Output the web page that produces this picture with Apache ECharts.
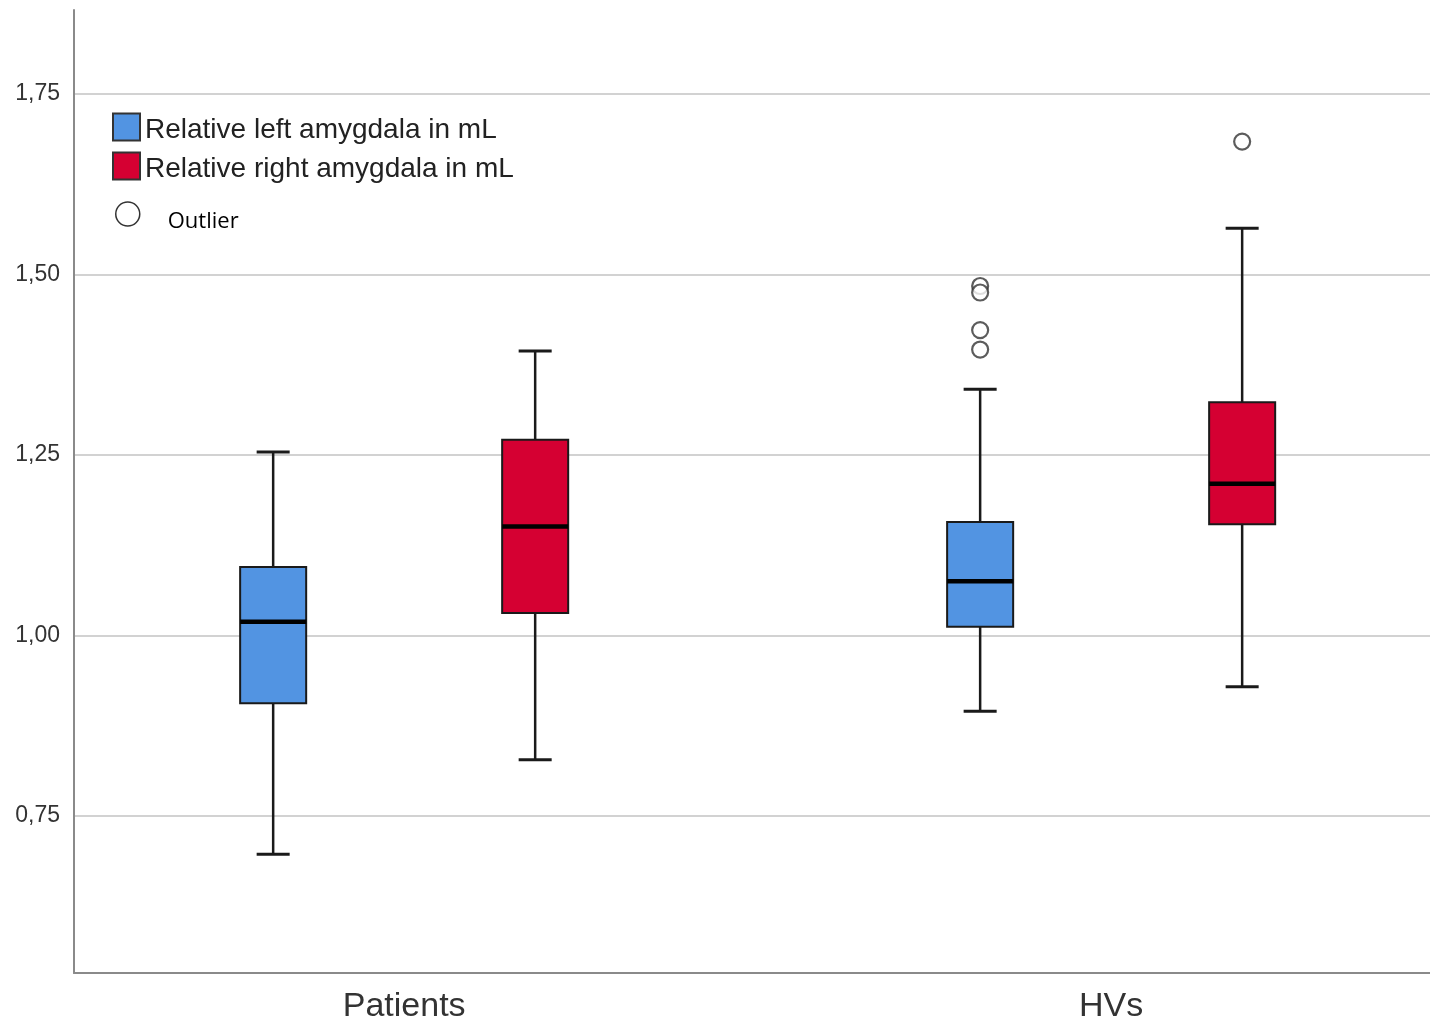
<!DOCTYPE html>
<html>
<head>
<meta charset="utf-8">
<script src="https://cdn.jsdelivr.net/npm/echarts@6/dist/echarts.min.js"></script>
<style>html,body{margin:0;padding:0;background:#fff}#c{width:1430px;height:1024px}</style>
</head>
<body>
<div id="c"></div>
<script>
// ---- data ----
const categories = ['Patients', 'HVs'];
const seriesNames = ['Relative left amygdala in mL', 'Relative right amygdala in mL'];
// [min, Q1, median, Q3, max]
const leftBox = [
  [0.697, 0.906, 1.019, 1.095, 1.254],
  [0.895, 1.012, 1.075, 1.157, 1.341]
];
const rightBox = [
  [0.828, 1.031, 1.151, 1.271, 1.394],
  [0.929, 1.154, 1.210, 1.323, 1.564]
];
// outliers per category
const leftOutliers = [[], [1.484, 1.475, 1.423, 1.396]];
const rightOutliers = [[], [1.684]];
const yTicks = [0.75, 1.00, 1.25, 1.50, 1.75];

// ---- layout constants ----
const OFFSET = 0.1853;   // half distance between paired boxes (x units)
const BOX_W = 0.0934;    // box width (x units)
const CAP_W = 0.0467;    // whisker cap width (x units)
const colors = ['#5294E2', '#D50032'];

function boxSeries(name, color, values, side) {
  return {
    type: 'custom',
    name: name,
    itemStyle: { color: color, borderColor: '#333', borderWidth: 2 },
    data: values.map((v, i) => [i].concat(v)),
    encode: { x: 0, y: [1, 2, 3, 4, 5] },
    renderItem: function (params, api) {
      const x = api.value(0) + side * OFFSET;
      const pMin = api.coord([x, api.value(1)]);
      const pQ1 = api.coord([x, api.value(2)]);
      const pMed = api.coord([x, api.value(3)]);
      const pQ3 = api.coord([x, api.value(4)]);
      const pMax = api.coord([x, api.value(5)]);
      const hw = api.size([BOX_W, 0])[0] / 2;
      const cw = api.size([CAP_W, 0])[0] / 2;
      const cx = pMed[0];
      const lineStyle = { stroke: '#1a1a1a', lineWidth: 2.5 };
      return {
        type: 'group',
        children: [
          { type: 'line', shape: { x1: cx, y1: pMax[1], x2: cx, y2: pQ3[1] }, style: lineStyle },
          { type: 'line', shape: { x1: cx, y1: pQ1[1], x2: cx, y2: pMin[1] }, style: lineStyle },
          { type: 'line', shape: { x1: cx - cw, y1: pMax[1], x2: cx + cw, y2: pMax[1] }, style: { stroke: '#1a1a1a', lineWidth: 3 } },
          { type: 'line', shape: { x1: cx - cw, y1: pMin[1], x2: cx + cw, y2: pMin[1] }, style: { stroke: '#1a1a1a', lineWidth: 3 } },
          { type: 'rect', shape: { x: cx - hw, y: pQ3[1], width: hw * 2, height: pQ1[1] - pQ3[1] },
            style: { fill: color, stroke: '#1a1a1a', lineWidth: 2 } },
          { type: 'line', shape: { x1: cx - hw, y1: pMed[1], x2: cx + hw, y2: pMed[1] }, style: { stroke: '#000', lineWidth: 4.5 } }
        ]
      };
    }
  };
}

const outlierData = [];
leftOutliers.forEach((arr, i) => arr.forEach(v => outlierData.push([i - OFFSET, v])));
rightOutliers.forEach((arr, i) => arr.forEach(v => outlierData.push([i + OFFSET, v])));

const chart = echarts.init(document.getElementById('c'));
chart.setOption({
  animation: false,
  backgroundColor: '#fff',
  grid: { left: 74, right: 0, top: 10, bottom: 51 },
  xAxis: {
    type: 'value',
    min: -0.467, max: 1.451,
    axisLine: { show: true, onZero: false, lineStyle: { color: '#8a8a8a', width: 2 } },
    axisTick: { show: false, customValues: [0, 1] },
    splitLine: { show: false },
    axisLabel: {
      customValues: [0, 1],
      formatter: v => categories[Math.round(v)],
      fontFamily: 'Liberation Sans', fontSize: 34, color: '#333', margin: 17
    }
  },
  yAxis: {
    type: 'value',
    min: 0.5325, max: 1.8663,
    axisLine: { show: true, onZero: false, lineStyle: { color: '#8a8a8a', width: 2 } },
    axisTick: { show: false, customValues: yTicks },
    splitLine: { show: true, lineStyle: { color: '#d2d2d2', width: 2 } },
    axisLabel: {
      customValues: yTicks,
      formatter: v => v.toFixed(2).replace('.', ','),
      fontFamily: 'Liberation Sans', fontSize: 23, color: '#333', margin: 14
    }
  },
  legend: [
    {
      orient: 'vertical', left: 112, top: 110, padding: 0,
      itemWidth: 27, itemHeight: 27, itemGap: 5,
      icon: 'rect',
      data: seriesNames,
      itemStyle: { borderColor: '#333', borderWidth: 2 },
      formatter: n => '{t|' + n + '}',
      textStyle: {
        fontFamily: 'Liberation Sans', fontSize: 28, color: '#222',
        rich: { t: { fontFamily: 'Liberation Sans', fontSize: 28, color: '#222', lineHeight: 27, padding: [6, 0, 0, 0] } }
      },
      selectedMode: false
    },
    {
      orient: 'vertical', left: 115, top: 195, padding: 0,
      itemWidth: 24, itemHeight: 24,
      icon: 'circle',
      data: ['Outlier'],
      itemStyle: { color: '#fff', borderColor: '#000', borderWidth: 1.5 },
      formatter: n => '{o|' + n + '}',
      textStyle: {
        fontFamily: 'Open Sans', fontSize: 22, color: '#000',
        rich: { o: { fontFamily: 'Open Sans', fontSize: 22, color: '#000', lineHeight: 24, padding: [16, 0, 0, 23] } }
      },
      selectedMode: false
    }
  ],
  series: [
    boxSeries(seriesNames[0], colors[0], leftBox, -1),
    boxSeries(seriesNames[1], colors[1], rightBox, 1),
    {
      type: 'scatter', name: 'Outlier',
      symbol: 'circle', symbolSize: 16,
      itemStyle: { color: '#fff', borderColor: '#333', borderWidth: 2.2 },
      data: outlierData,
      z: 3
    }
  ]
});
</script>
</body>
</html>
